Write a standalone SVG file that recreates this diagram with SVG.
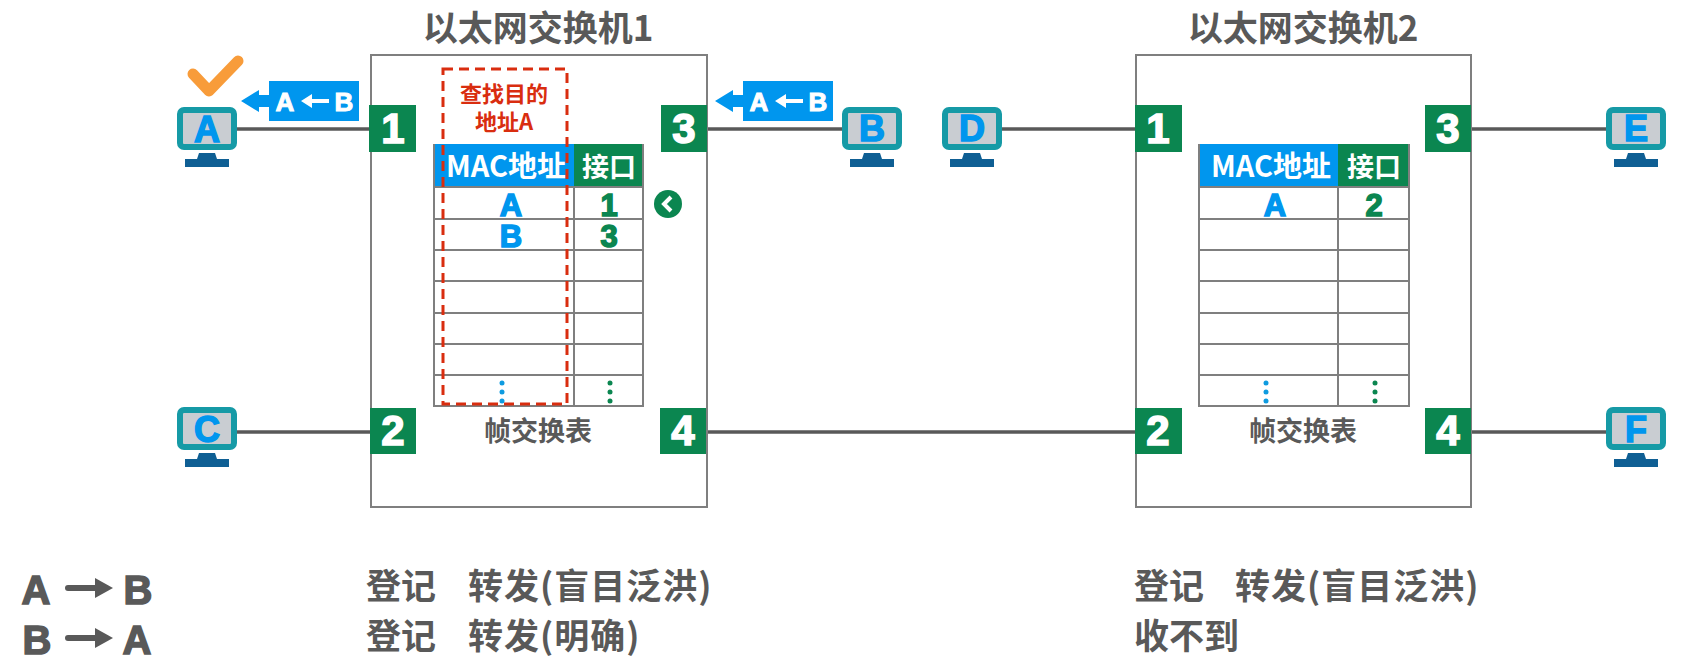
<svg xmlns="http://www.w3.org/2000/svg" width="1682" height="663" viewBox="0 0 1682 663">
<style>
text{font-family:"Noto Sans CJK SC","Liberation Sans",sans-serif;font-weight:700;text-anchor:middle}
.title{font-size:35px;fill:#595959}
.sw{fill:#fff;stroke:#7f7f7f;stroke-width:2}
.link{stroke:#595959;stroke-width:3.500;fill:none}
.port{fill:#0B8650}
.portt{font-family:"Liberation Sans",sans-serif;font-size:42px;font-weight:700;fill:#fff;stroke:#fff;stroke-width:1.500}
.grid{stroke:#7f7f7f;stroke-width:2;fill:none}
.hb{fill:#0096EE}.hg{fill:#0B8650}
.ht{font-size:27px;fill:#fff}
.mh{font-size:29px;fill:#fff}
.ea{font-family:"Liberation Sans",sans-serif;font-size:31px;font-weight:700;fill:#0096EE;stroke:#0096EE;stroke-width:1.500}
.ep{font-family:"Liberation Sans",sans-serif;font-size:31px;font-weight:700;fill:#0B8650;stroke:#0B8650;stroke-width:1.500}
.cap{font-size:27px;fill:#595959}
.mon{fill:#C9CDD2;stroke:#169AA6;stroke-width:6}
.st{fill:#0F5F94}
.hl{font-family:"Liberation Sans",sans-serif;font-size:36px;font-weight:700;fill:#0096EE;stroke:#0096EE;stroke-width:1.500}
.lab{font-family:"Liberation Sans",sans-serif;font-size:26px;font-weight:700;fill:#fff;stroke:#fff;stroke-width:1}
.bot{font-size:35px;fill:#595959;text-anchor:start}
.sp{letter-spacing:1px}
.bl{font-family:"Liberation Sans",sans-serif;font-size:40px;font-weight:700;fill:#595959;stroke:#595959;stroke-width:1.500}
.red{font-size:22px;fill:#D92D0F}
.la{fill:none;stroke:#595959;stroke-width:6;stroke-linecap:round}
</style>
<defs>
<g id="pc">
<rect class="mon" x="-27" y="5" width="54" height="37" rx="4"/>
<path class="st" d="M-8 48 H8 L10 54 H22 V62 H-22 V54 H-10 Z"/>
</g>
<g id="dots"><circle cx="0" cy="0" r="2.500"/><circle cx="0" cy="9" r="2.500"/><circle cx="0" cy="18" r="2.500"/></g>
<g id="arrL"><path d="M0 20 L18 9 V14 H30 V26 H18 V31 Z" fill="#0096EE"/><rect x="28" y="0" width="90" height="40" fill="#0096EE"/>
<path d="M60 20 L71 13 V18 H88 V22 H71 V27 Z" fill="#fff"/>
<text class="lab" x="44" y="30">A</text><text class="lab" x="103" y="30">B</text></g>
</defs>

<g id="connectors">
<path class="link" d="M237 129 H369"/>
<path class="link" d="M237 432 H370"/>
<path class="link" d="M707 129 H842"/>
<path class="link" d="M1002 129 H1135"/>
<path class="link" d="M706 432 H1135"/>
<path class="link" d="M1471 129 H1606"/>
<path class="link" d="M1471 432 H1606"/>
</g>

<g id="switch1">
<rect class="sw" x="371" y="55" width="336" height="452"/>
<text class="title" x="538" y="41">以太网交换机1</text>
<g id="table1">
<rect class="hb" x="434" y="144" width="140" height="43"/>
<rect class="hg" x="574" y="144" width="69" height="43"/>
<path class="grid" d="M434 144 V406 H643 V144 M574 187 V406 M434 187 H643 M434 219 H643 M434 250 H643 M434 281 H643 M434 313 H643 M434 344 H643 M434 375 H643"/>
<text class="mh" x="506" y="177">MAC地址</text><text class="ht" x="609" y="177">接口</text>
<text class="ea" x="511" y="216">A</text><text class="ep" x="609" y="216">1</text>
<text class="ea" x="511" y="247">B</text><text class="ep" x="609" y="247">3</text>
<use href="#dots" x="502" y="383" fill="#0E9BE0"/><use href="#dots" x="610" y="383" fill="#0B8650"/>
<text class="cap" x="538" y="441">帧交换表</text>
</g>
<rect x="443" y="69" width="124" height="335" fill="none" stroke="#D92D0F" stroke-width="3" stroke-dasharray="10 6"/>
<text class="red" x="504" y="102">查找目的</text><text class="red" x="504" y="130">地址A</text>
<circle cx="668" cy="204" r="14" fill="#0B8650"/>
<path d="M671 197 L664 204 L671 211" fill="none" stroke="#fff" stroke-width="4"/>
<g id="s1p1"><rect class="port" x="369" y="105" width="47" height="47"/><text class="portt" x="393" y="143">1</text></g>
<g id="s1p2"><rect class="port" x="370" y="408" width="46" height="46"/><text class="portt" x="393" y="445">2</text></g>
<g id="s1p3"><rect class="port" x="661" y="105" width="46" height="47"/><text class="portt" x="684" y="143">3</text></g>
<g id="s1p4"><rect class="port" x="660" y="408" width="46" height="46"/><text class="portt" x="683" y="445">4</text></g>
</g>

<g id="switch2">
<rect class="sw" x="1136" y="55" width="335" height="452"/>
<text class="title" x="1303" y="41">以太网交换机2</text>
<g id="table2">
<rect class="hb" x="1199" y="144" width="139" height="43"/>
<rect class="hg" x="1338" y="144" width="71" height="43"/>
<path class="grid" d="M1199 144 V406 H1409 V144 M1338 187 V406 M1199 187 H1409 M1199 219 H1409 M1199 250 H1409 M1199 281 H1409 M1199 313 H1409 M1199 344 H1409 M1199 375 H1409"/>
<text class="mh" x="1271" y="177">MAC地址</text><text class="ht" x="1374" y="177">接口</text>
<text class="ea" x="1275" y="216">A</text><text class="ep" x="1374" y="216">2</text>
<use href="#dots" x="1266" y="383" fill="#0E9BE0"/><use href="#dots" x="1375" y="383" fill="#0B8650"/>
<text class="cap" x="1303" y="441">帧交换表</text>
</g>
<g id="s2p1"><rect class="port" x="1135" y="105" width="47" height="47"/><text class="portt" x="1158" y="143">1</text></g>
<g id="s2p2"><rect class="port" x="1135" y="408" width="47" height="46"/><text class="portt" x="1158" y="445">2</text></g>
<g id="s2p3"><rect class="port" x="1425" y="105" width="46" height="47"/><text class="portt" x="1448" y="143">3</text></g>
<g id="s2p4"><rect class="port" x="1425" y="408" width="46" height="46"/><text class="portt" x="1448" y="445">4</text></g>
</g>

<g id="pcA"><use href="#pc" x="207" y="105"/><text class="hl" x="207" y="142">A</text></g>
<g id="pcC"><use href="#pc" x="207" y="405"/><text class="hl" x="207" y="442">C</text></g>
<g id="pcB"><use href="#pc" x="872" y="105"/><text class="hl" x="872" y="141">B</text></g>
<g id="pcD"><use href="#pc" x="972" y="105"/><text class="hl" x="972" y="141">D</text></g>
<g id="pcE"><use href="#pc" x="1636" y="105"/><text class="hl" x="1636" y="141">E</text></g>
<g id="pcF"><use href="#pc" x="1636" y="405"/><text class="hl" x="1636" y="442">F</text></g>

<path id="check" d="M193 74 L209 91 L238 61" fill="none" stroke="#F89C3A" stroke-width="11" stroke-linecap="round" stroke-linejoin="round"/>
<use id="frameA" href="#arrL" x="241" y="81"/>
<use id="frameB" href="#arrL" x="715" y="81"/>

<g id="legend">
<text class="bl" x="36" y="604">A</text><path class="la" d="M68 588 H98"/><path d="M95 578 L113 588 L95 598 Z" fill="#595959"/><text class="bl" x="138" y="604">B</text>
<text class="bl" x="37" y="654">B</text><path class="la" d="M68 638 H98"/><path d="M95 628 L113 638 L95 648 Z" fill="#595959"/><text class="bl" x="137" y="654">A</text>
<text class="bot" x="366" y="599">登记</text><text class="bot sp" x="468" y="599">转发(盲目泛洪)</text>
<text class="bot" x="366" y="649">登记</text><text class="bot sp" x="468" y="649">转发(明确)</text>
<text class="bot" x="1134" y="599">登记</text><text class="bot sp" x="1235" y="599">转发(盲目泛洪)</text>
<text class="bot" x="1134" y="649">收不到</text>
</g>
</svg>
